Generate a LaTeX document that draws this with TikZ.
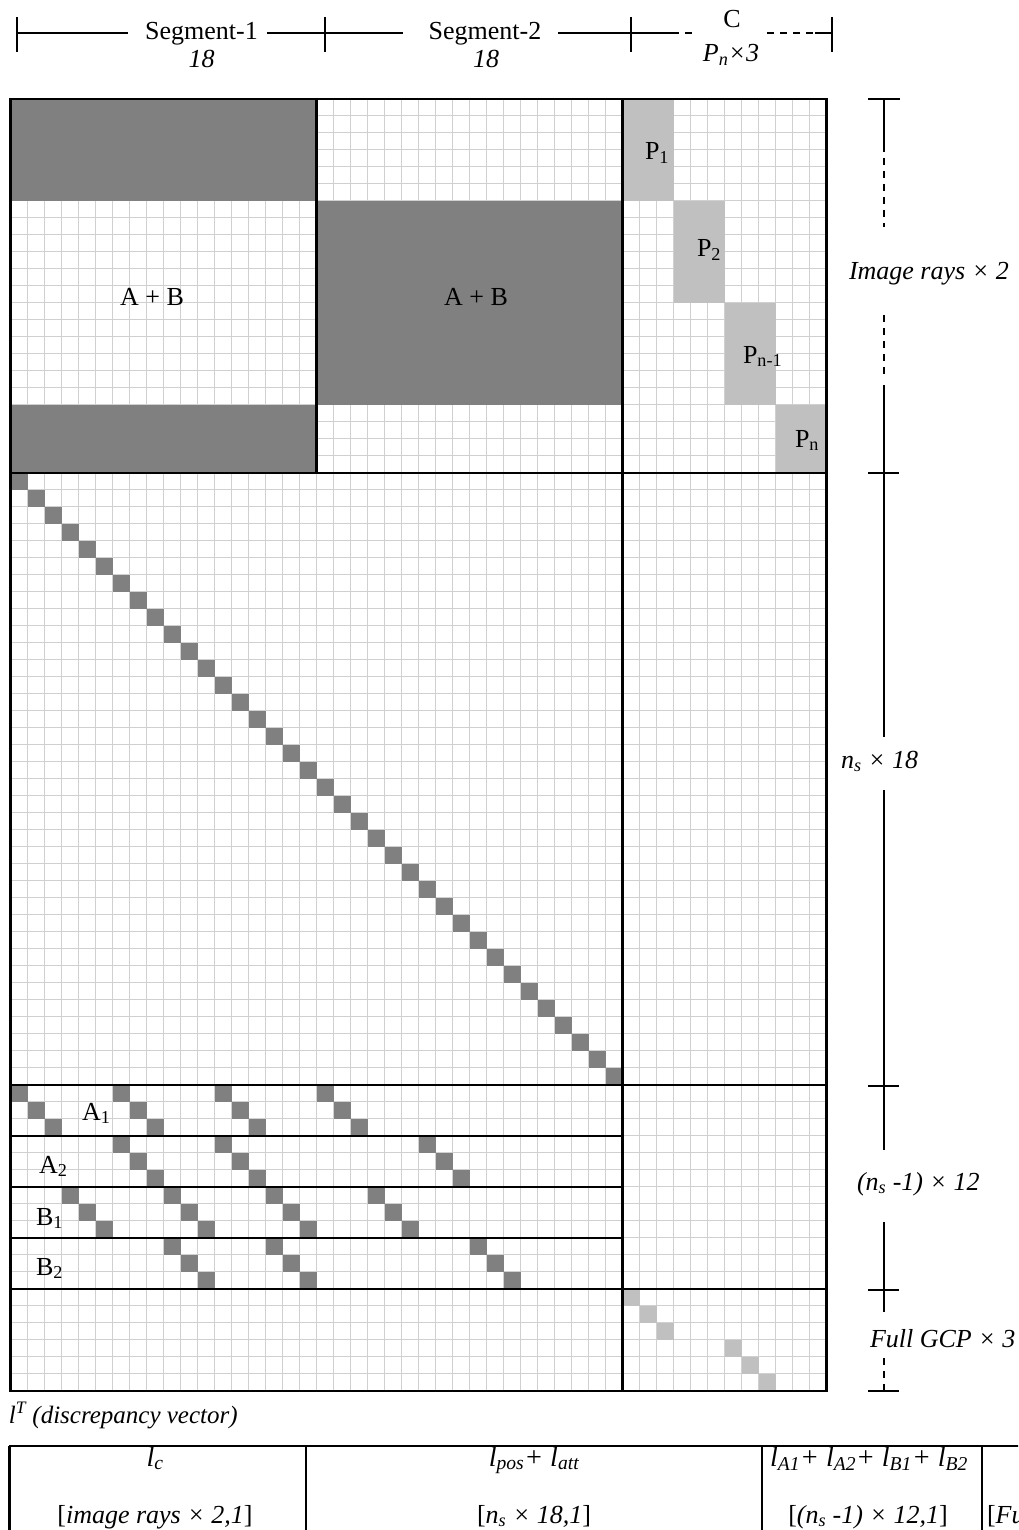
\documentclass[tikz,border=0pt]{standalone}
\usepackage{fontspec}
\setmainfont{Liberation Serif}
\definecolor{darkc}{RGB}{128,128,128}
\definecolor{lightc}{RGB}{192,192,192}
\definecolor{gridc}{RGB}{208,208,208}
\begin{document}
\begin{tikzpicture}[x=1pt,y=-1pt,
  gridl/.style={draw=gridc,line width=1.3pt},
  thickline/.style={draw=black,line width=2.2pt},
  dimline/.style={draw=black,line width=1.3pt},
  dimdash/.style={dimline,dash pattern=on 7pt off 6pt},
  lbl/.style={inner sep=0pt,outer sep=0pt,font=\fontsize{26}{30}\selectfont},
  ilbl/.style={inner sep=0pt,outer sep=0pt,font=\fontsize{26}{30}\selectfont\itshape},
  tlbl/.style={inner sep=0pt,outer sep=0pt,font=\fontsize{28}{32}\selectfont\itshape}]
\useasboundingbox (0,0) rectangle (1018,1530);
\clip (0,0) rectangle (1018,1530);
\fill[white] (0,0) rectangle (1018,1530);

% ---------- header ----------
\foreach \x in {17,325,631,832} \draw[dimline] (\x,17) -- (\x,52);
\draw[dimline] (17,33) -- (128,33);
\draw[dimline] (267,33) -- (403,33);
\draw[dimline] (558,33) -- (672,33);
\draw[dimdash] (672,33) -- (692,33);
\draw[dimdash] (767,33) -- (815,33);
\draw[dimline] (815,33) -- (832,33);
\node[lbl,anchor=base] (seg1) at (201.5,40) {Segment-1};
\node[ilbl,anchor=base] (seg1n) at (201.5,68) {18};
\node[lbl,anchor=base] (seg2) at (485,40) {Segment-2};
\node[ilbl,anchor=base] (seg2n) at (486,68) {18};
\node[lbl,anchor=base] (ctitle) at (732,28) {C};
\node[ilbl,anchor=base] (cdim) at (731,62) {P\textsubscript{n}×3};

% ---------- matrix grid ----------
\begin{scope}[shift={(10.5,98.7)},x=17pt,y=-17pt]
  \foreach \i in {0,...,48} \draw[gridl] (\i,0) -- (\i,76);
  \foreach \j in {0,...,76} \draw[gridl] (0,\j) -- (48,\j);
  % top block
  \fill[darkc] (0,0) rectangle (18,6);
  \fill[darkc] (0,18) rectangle (18,22);
  \fill[darkc] (18,6) rectangle (36,18);
  \fill[lightc] (36,0) rectangle (39,6);
  \fill[lightc] (39,6) rectangle (42,12);
  \fill[lightc] (42,12) rectangle (45,18);
  \fill[lightc] (45,18) rectangle (48,22);
  % diagonal
  \foreach \k in {0,...,35} \fill[darkc] ({\k},{22+\k}) rectangle ++(1,1);
  % A1 A2 B1 B2
  \foreach \r/\cs in {58/{0,6,12,18},61/{6,12,24},64/{3,9,15,21},67/{9,15,27}}
    \foreach \c in \cs
      \foreach \k in {0,1,2}
        \fill[darkc] ({\c+\k},{\r+\k}) rectangle ++(1,1);
  % GCP
  \foreach \c/\r in {36/70,37/71,38/72,42/73,43/74,44/75}
    \fill[lightc] (\c,\r) rectangle ++(1,1);
  % borders
  \draw[thickline] (0,0) rectangle (48,76);
  \draw[thickline] (18,0) -- (18,22);
  \draw[thickline] (36,0) -- (36,76);
  \foreach \j in {22,58,70} \draw[thickline] (0,\j) -- (48,\j);
  \foreach \j in {61,64,67} \draw[thickline] (0,\j) -- (36,\j);
\end{scope}

% ---------- labels in matrix ----------
\node[lbl,anchor=base] (ab1) at (152,305) {A + B};
\node[lbl,anchor=base] (ab2) at (476,305) {A + B};
\node[lbl,anchor=base west] (p1) at (645,160) {P\textsubscript{1}};
\node[lbl,anchor=base west] (p2) at (697,257) {P\textsubscript{2}};
\node[lbl,anchor=base west] (pn1) at (743,363) {P\textsubscript{n-1}};
\node[lbl,anchor=base west] (pn) at (795,447) {P\textsubscript{n}};
\node[lbl,anchor=base west] (a1) at (82,1120) {A\textsubscript{1}};
\node[lbl,anchor=base west] (a2) at (39,1173) {A\textsubscript{2}};
\node[lbl,anchor=base west] (b1) at (36,1225) {B\textsubscript{1}};
\node[lbl,anchor=base west] (b2) at (36,1275) {B\textsubscript{2}};

% ---------- right dimension ----------
\draw[dimline] (868,99) -- (900,99);
\draw[dimline] (884,99) -- (884,145);
\draw[dimdash] (884,145) -- (884,227);
\node[ilbl,anchor=base west] (imgrays) at (849,279) {Image rays × 2};
\draw[dimdash] (884,315) -- (884,378);
\draw[dimline] (884,385) -- (884,737);
\draw[dimline] (868,473) -- (899,473);
\node[ilbl,anchor=base west] (ns18) at (841,768) {n\textsubscript{s} × 18};
\draw[dimline] (884,790) -- (884,1150);
\draw[dimline] (868,1086) -- (899,1086);
\node[ilbl,anchor=base west] (ns12) at (857,1190) {(n\textsubscript{s} -1) × 12};
\draw[dimline] (884,1222) -- (884,1312);
\draw[dimline] (868,1290) -- (899,1290);
\node[ilbl,anchor=base west] (gcp) at (870,1347) {Full GCP × 3};
\draw[dimdash] (884,1358) -- (884,1391);
\draw[dimline] (868,1391) -- (899,1391);

% ---------- discrepancy vector ----------
\node[inner sep=0pt,outer sep=0pt,font=\fontsize{25}{29}\selectfont\itshape,anchor=base west] (lt) at (9,1423) {l\textsuperscript{T} (discrepancy vector)};
\draw[thickline] (9,1446) -- (1030,1446);
\foreach \x in {9.5,306,762,982} \draw[thickline] (\x,1446) -- (\x,1540);
\node[tlbl,anchor=base] (lc) at (155,1466) {l\textsubscript{c}};
\node[tlbl,anchor=base] (lpos) at (534,1466) {l\textsubscript{pos}+ l\textsubscript{att}};
\node[tlbl,anchor=base] (lab) at (869,1466) {l\textsubscript{A1}+ l\textsubscript{A2}+ l\textsubscript{B1}+ l\textsubscript{B2}};
\node[lbl,anchor=base] (dimc) at (155,1523) {[\textit{image rays × 2,1}]};
\node[lbl,anchor=base] (dimpos) at (534,1523) {[\textit{n\textsubscript{s} × 18,1}]};
\node[lbl,anchor=base] (dimab) at (868,1523) {[\textit{(n\textsubscript{s} -1) × 12,1}]};
\node[lbl,anchor=base west] (dimgcp) at (987,1523) {[\textit{Full GCP × 3,1}]};
\end{tikzpicture}
\end{document}
